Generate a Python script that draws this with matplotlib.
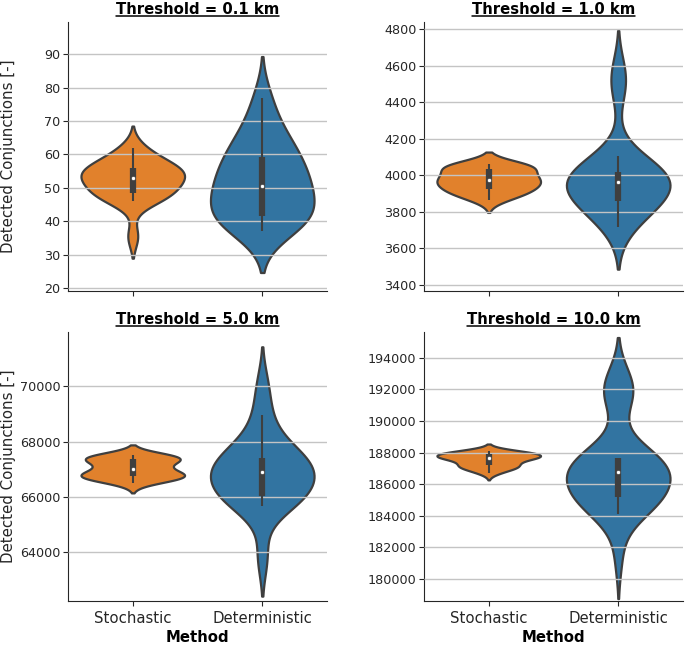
import matplotlib.pyplot as plt
import numpy as np
import pandas as pd
import seaborn as sns
from matplotlib.lines import Line2D

methods = ["Stochastic", "Deterministic"]
thresholds = ["0.1", "1.0", "5.0", "10.0"]

stoch_01 = [35.5, 46, 47, 47.5, 48, 48.5, 50, 51, 52, 53,
            53, 54, 54.5, 55, 56, 56, 57, 58, 60, 62]
det_01 = [37, 39, 40.5, 41, 41.5, 41.8, 45, 47, 49, 50,
          51, 53, 55, 57, 59, 60.5, 63, 66, 70, 77]

stoch_1 = [3865, 3885, 3900, 3912, 3920, 3930, 3945, 3955, 3962, 3970,
           3980, 3988, 3998, 4010, 4030, 4045, 4050, 4055, 4058, 4060]
det_1 = [3715, 3770, 3815, 3840, 3855, 3865, 3890, 3920, 3945, 3960,
         3970, 3985, 3995, 4005, 4015, 4030, 4060, 4105, 4480, 4565]

stoch_5 = [66518, 66600, 66680, 66720, 66735, 66760, 66790, 66820, 66900, 67000,
           67025, 67150, 67250, 67290, 67390, 67405, 67430, 67460, 67490, 67518]
det_5 = [63850, 65675, 65850, 65950, 66000, 66030, 66300, 66500, 66650, 66800,
         66985, 67050, 67200, 67350, 67420, 67460, 67750, 68300, 68964, 70000]

stoch_10 = [186726, 186900, 187050, 187120, 187160, 187200, 187350, 187500, 187600, 187660,
            187690, 187720, 187760, 187800, 187880, 187915, 187960, 188000, 188050, 188097]
det_10 = [181450, 184090, 184300, 184600, 184800, 184950, 185050, 185150, 185250, 185450,
          185700, 185950, 186200, 186400, 186650, 186930, 187050, 187200, 187350, 187450,
          187520, 187600, 187645, 187660, 187675, 191400, 191650, 191950, 192250, 192600]

samples = {
    "0.1": (stoch_01, det_01),
    "1.0": (stoch_1, det_1),
    "5.0": (stoch_5, det_5),
    "10.0": (stoch_10, det_10),
}

ylims = {
    "0.1": (19.2, 99.6),
    "1.0": (3367, 4840),
    "5.0": (62240, 71973),
    "10.0": (178608, 195645),
}
yticks = {
    "0.1": np.arange(20, 91, 10),
    "1.0": np.arange(3400, 4801, 200),
    "5.0": np.arange(64000, 70001, 2000),
    "10.0": np.arange(180000, 194001, 2000),
}

palette = {"Stochastic": "#ff7f0e", "Deterministic": "#1f77b4"}
edge = "#3f3f3f"

sns.set_style("ticks")
plt.rcParams["font.family"] = ["DejaVu Sans"]

fig, axes = plt.subplots(2, 2, figsize=(6.85, 6.46), dpi=100)
fig.subplots_adjust(left=0.0993, right=0.997, top=0.966, bottom=0.0697,
                    wspace=0.3745, hspace=0.152)

titles = []
for k, (ax, thr) in enumerate(zip(axes.flat, thresholds)):
    stoch, det = samples[thr]
    df = pd.DataFrame({
        "Method": ["Stochastic"] * len(stoch) + ["Deterministic"] * len(det),
        "value": list(stoch) + list(det),
    })
    sns.violinplot(data=df, x="Method", y="value", order=methods, hue="Method",
                   palette=palette, inner=None, cut=2, density_norm="width",
                   linewidth=1.6, linecolor=edge, saturation=0.75, legend=False, ax=ax)

    # inner box like the old seaborn style: whiskers at 1.5 IQR, thick box, white median dot
    for i, vals in enumerate((stoch, det)):
        v = np.asarray(vals, dtype=float)
        q1, med, q3 = np.percentile(v, [25, 50, 75])
        lim = 1.5 * (q3 - q1)
        lo = v[v >= q1 - lim].min()
        hi = v[v <= q3 + lim].max()
        ax.plot([i, i], [lo, hi], color=edge, lw=1.5, solid_capstyle="butt", zorder=3)
        ax.plot([i, i], [q1, q3], color=edge, lw=4.5, solid_capstyle="butt", zorder=3)
        ax.scatter([i], [med], s=9, color="white", edgecolor=edge, linewidth=0.5, zorder=4)

    ax.set_ylim(*ylims[thr])
    ax.set_yticks(yticks[thr])
    ax.set_xlim(-0.5, 1.5)
    ax.yaxis.grid(True, color="#c4c4c4", lw=1.0)
    ax.set_axisbelow(False)
    sns.despine(ax=ax)
    ax.tick_params(length=3.5, color="#262626", labelcolor="#262626")
    ax.tick_params(axis="y", labelsize=9.2, pad=2)
    ax.tick_params(axis="x", labelsize=10.7)

    t = ax.set_title(f"Threshold = {thr} km", fontsize=10.7, fontweight="bold",
                     pad=6, color="black")
    titles.append(t)
    if k % 2 == 0:
        ax.set_ylabel("Detected Conjunctions [-]", fontsize=10.8, color="#262626")
        ax.yaxis.set_label_coords(-0.2, 0.5)
    else:
        ax.set_ylabel("")
    if k < 2:
        ax.set_xlabel("")
        ax.set_xticklabels([])
    else:
        ax.set_xlabel("Method", fontsize=10.7, fontweight="bold", color="black",
                      labelpad=3)

# underline the titles
fig.canvas.draw()
renderer = fig.canvas.get_renderer()
inv = fig.transFigure.inverted()
for t in titles:
    bb = t.get_window_extent(renderer)
    (x0, y0), (x1, _) = inv.transform([(bb.x0, bb.y0 + 1), (bb.x1, bb.y0)])
    fig.add_artist(Line2D([x0, x1], [y0, y0], color="black", lw=1.1,
                          transform=fig.transFigure))

fig.savefig("out.png", dpi=100)
